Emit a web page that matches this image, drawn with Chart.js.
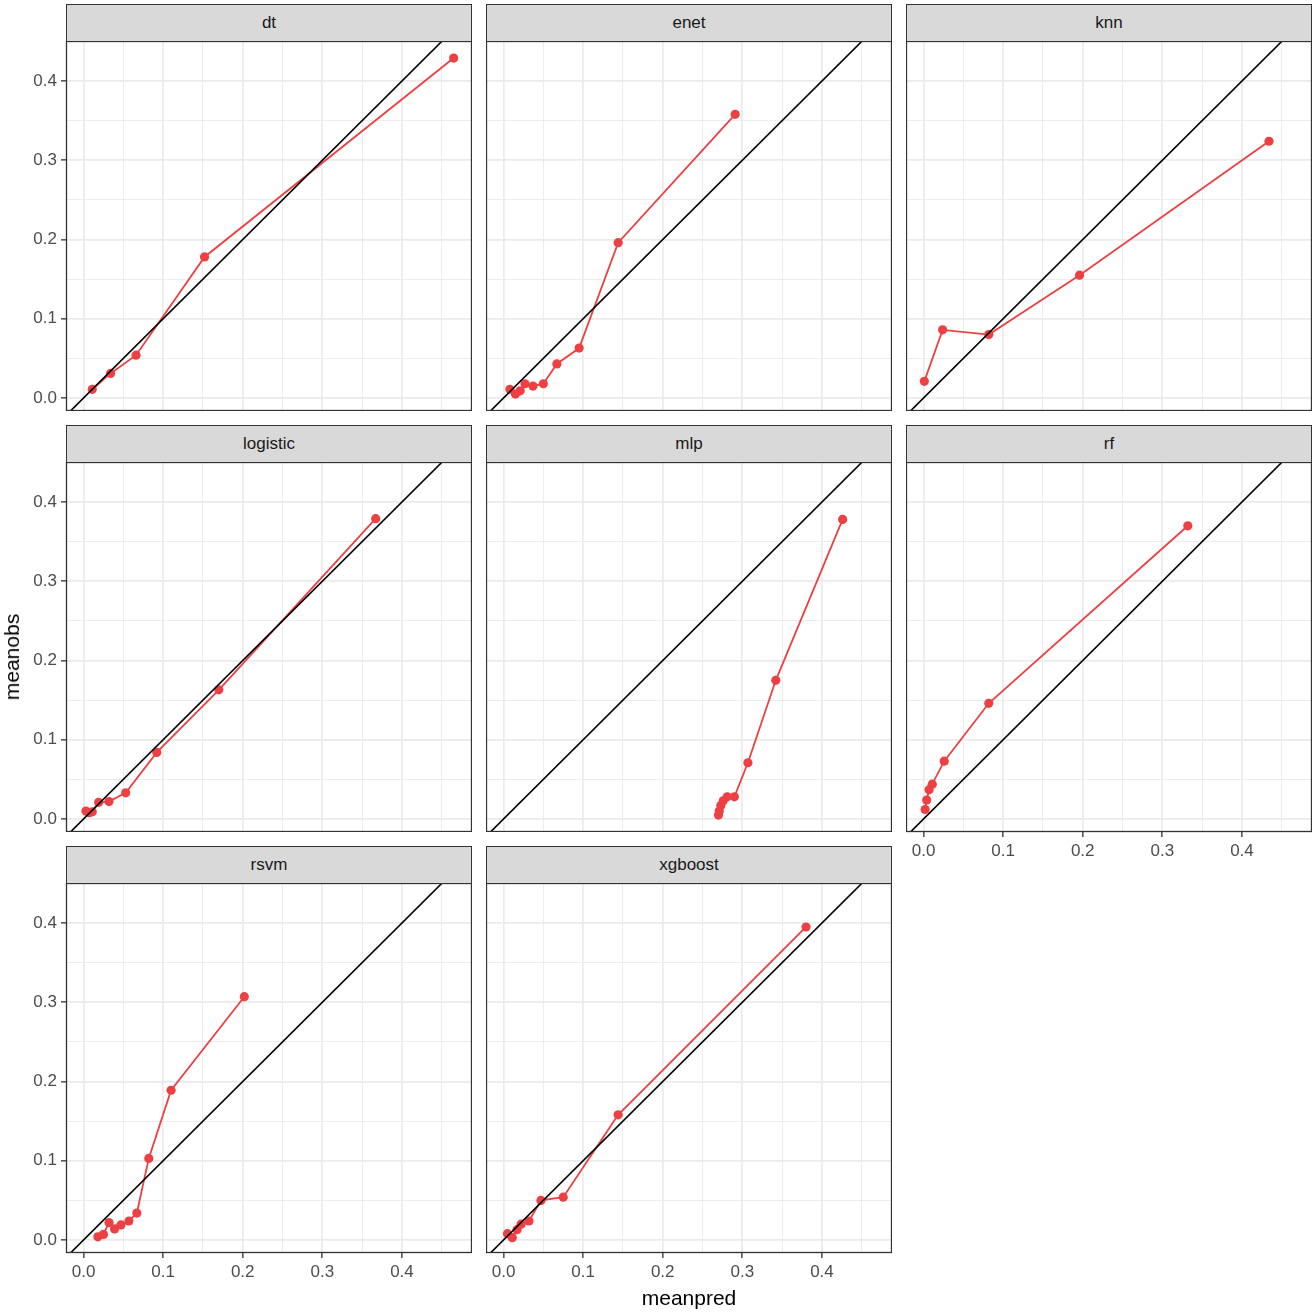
<!DOCTYPE html>
<html>
<head>
<meta charset="utf-8">
<script src="https://cdn.jsdelivr.net/npm/chart.js@4.4.1/dist/chart.umd.min.js"></script>
<style>
  body { margin: 0; background: #fff; font-family: "Liberation Sans", Arial, sans-serif; }
  #fig { position: relative; width: 1316px; height: 1316px; overflow: hidden; background: #fff; }
  .strip { position: absolute; box-sizing: border-box; background: #d9d9d9; border: 1px solid #333;
           color: #1a1a1a; font-size: 17px; text-align: center; }
  canvas { position: absolute; }
  .axis-title { position: absolute; font-size: 21px; color: #000; white-space: nowrap; }
</style>
</head>
<body>
<div id="fig"></div>
<script>
// facet names, in panel order
const models = ['dt', 'enet', 'knn', 'logistic', 'mlp', 'rf', 'rsvm', 'xgboost'];

const dtPred = [0.011, 0.034, 0.066, 0.152, 0.465];
const dtObs = [0.011, 0.031, 0.054, 0.178, 0.429];
const enetPred = [0.008, 0.015, 0.021, 0.027, 0.037, 0.050, 0.067, 0.095, 0.144, 0.291];
const enetObs = [0.011, 0.005, 0.009, 0.018, 0.015, 0.018, 0.043, 0.063, 0.196, 0.358];
const knnPred = [0.001, 0.024, 0.082, 0.196, 0.434];
const knnObs = [0.021, 0.086, 0.080, 0.155, 0.324];
const logisticPred = [0.003, 0.007, 0.011, 0.019, 0.032, 0.053, 0.092, 0.170, 0.367];
const logisticObs = [0.010, 0.008, 0.009, 0.021, 0.022, 0.033, 0.084, 0.163, 0.379];
const mlpPred = [0.270, 0.271, 0.273, 0.276, 0.281, 0.290, 0.307, 0.342, 0.426];
const mlpObs = [0.005, 0.010, 0.017, 0.023, 0.028, 0.028, 0.071, 0.175, 0.378];
const rfPred = [0.002, 0.004, 0.007, 0.011, 0.026, 0.082, 0.332];
const rfObs = [0.012, 0.024, 0.037, 0.044, 0.073, 0.146, 0.370];
const rsvmPred = [0.018, 0.025, 0.032, 0.039, 0.047, 0.057, 0.067, 0.082, 0.110, 0.202];
const rsvmObs = [0.004, 0.007, 0.022, 0.014, 0.019, 0.024, 0.034, 0.103, 0.189, 0.307];
const xgboostPred = [0.005, 0.011, 0.017, 0.022, 0.032, 0.047, 0.075, 0.144, 0.380];
const xgboostObs = [0.008, 0.003, 0.013, 0.020, 0.024, 0.050, 0.054, 0.158, 0.395];

const predByModel = [dtPred, enetPred, knnPred, logisticPred, mlpPred, rfPred, rsvmPred, xgboostPred];
const obsByModel = [dtObs, enetObs, knnObs, logisticObs, mlpObs, rfObs, rsvmObs, xgboostObs];

// axis ticks (major labelled, minor only as grid)
const majorTicks = [0, 0.1, 0.2, 0.3, 0.4];
const minorTicks = [0.05, 0.15, 0.25, 0.35, 0.45];
const xMin = -0.022, xMax = 0.488;
const yMin = -0.0164, yMax = 0.4505;

// layout
const colLeft = [66, 486, 906];
const rowTop = [4, 425, 846];
const stripH = 37, panelW = 406, panelH = 370;
const red = '#ec4042';
const fontFamily = '"Liberation Sans", Arial, sans-serif';

const fig = document.getElementById('fig');
const gridVals = majorTicks.concat(minorTicks).sort((a, b) => a - b);
const isMajor = v => Math.abs(v * 10 - Math.round(v * 10)) < 1e-6;

// dark panel border like theme_bw
const frame = {
    id: 'frame',
    afterDraw(chart) {
        const a = chart.chartArea, c = chart.ctx;
        c.save();
        c.strokeStyle = '#333';
        c.lineWidth = 1.3;
        c.strokeRect(a.left + 0.5, a.top + 0.5, a.right - a.left - 1, a.bottom - a.top - 1);
        c.restore();
    }
};

function axisOptions(min, max, show, size, isX) {
    return {
        type: 'linear',
        min: min,
        max: max,
        afterBuildTicks: s => { s.ticks = gridVals.map(v => ({ value: v })); },
        afterFit: s => {
            if (isX) s.height = size; else s.width = size;
            // no extra room for labels: the plot area must fill the panel box
            s.paddingTop = s.paddingBottom = s.paddingLeft = s.paddingRight = 0;
        },
        ticks: {
            display: show,
            autoSkip: false,
            maxRotation: 0,
            padding: 4,
            color: '#4d4d4d',
            font: { size: 17, family: fontFamily },
            callback: v => isMajor(v) ? v.toFixed(1) : ''
        },
        grid: {
            color: '#ebebeb',
            lineWidth: ctx => isMajor(ctx.tick.value) ? 1.7 : 0.9,
            drawTicks: show,
            tickLength: 5,
            tickWidth: 1.3,
            tickColor: ctx => isMajor(ctx.tick.value) ? '#333' : 'rgba(0,0,0,0)'
        },
        border: { display: false }
    };
}

models.forEach((name, i) => {
    const col = i % 3, row = Math.floor(i / 3);
    const showY = col === 0;
    const showX = row === 2 || (row === 1 && col === 2);
    const padL = showY ? 66 : 0;
    const padB = showX ? 44 : 0;

    const strip = document.createElement('div');
    strip.className = 'strip';
    strip.style.left = colLeft[col] + 'px';
    strip.style.top = rowTop[row] + 'px';
    strip.style.width = panelW + 'px';
    strip.style.height = (stripH + 1) + 'px';
    strip.style.lineHeight = (stripH - 1) + 'px';
    strip.textContent = name;
    fig.appendChild(strip);

    const canvas = document.createElement('canvas');
    canvas.width = panelW + padL;
    canvas.height = panelH + padB;
    canvas.style.left = (colLeft[col] - padL) + 'px';
    canvas.style.top = (rowTop[row] + stripH) + 'px';
    fig.appendChild(canvas);

    const pred = predByModel[i], obs = obsByModel[i];
    new Chart(canvas, {
        type: 'scatter',
        data: {
            datasets: [
                {   // y = x reference line, drawn on top
                    data: [{ x: xMin - 0.05, y: xMin - 0.05 }, { x: xMax + 0.05, y: xMax + 0.05 }],
                    showLine: true,
                    borderColor: '#000',
                    borderWidth: 1.6,
                    pointRadius: 0
                },
                {
                    data: pred.map((p, k) => ({ x: p, y: obs[k] })),
                    showLine: true,
                    borderColor: red,
                    borderWidth: 1.8,
                    backgroundColor: red,
                    pointBackgroundColor: red,
                    pointBorderWidth: 0,
                    pointRadius: 4.6
                }
            ]
        },
        options: {
            responsive: false,
            animation: false,
            devicePixelRatio: 1,
            layout: { padding: 0, autoPadding: false },
            plugins: { legend: { display: false }, tooltip: { enabled: false } },
            scales: {
                x: axisOptions(xMin, xMax, showX, padB, true),
                y: axisOptions(yMin, yMax, showY, padL, false)
            }
        },
        plugins: [frame]
    });
});

// axis titles
const xt = document.createElement('div');
xt.className = 'axis-title';
xt.textContent = 'meanpred';
xt.style.left = '689px';
xt.style.top = '1298px';
xt.style.transform = 'translate(-50%, -50%)';
fig.appendChild(xt);

const yt = document.createElement('div');
yt.className = 'axis-title';
yt.textContent = 'meanobs';
yt.style.left = '12px';
yt.style.top = '657px';
yt.style.transform = 'translate(-50%, -50%) rotate(-90deg)';
fig.appendChild(yt);
</script>
</body>
</html>
